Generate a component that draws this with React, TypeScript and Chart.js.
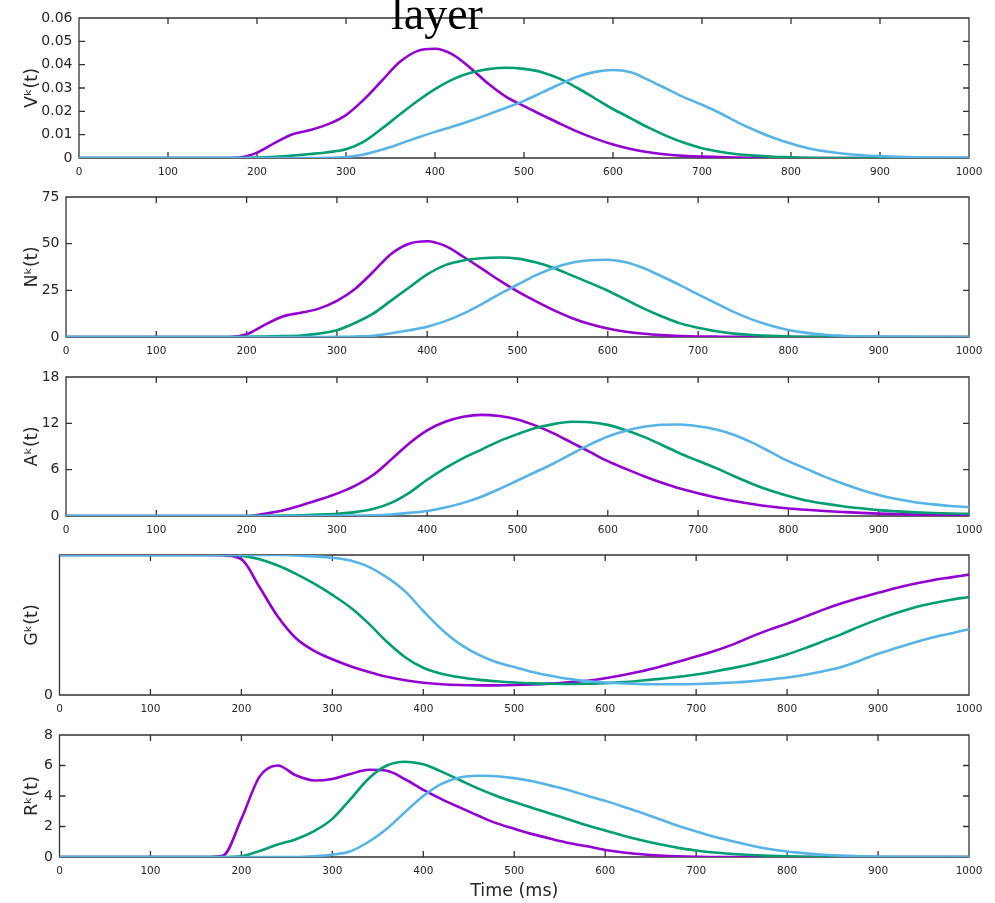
import React, { useEffect, useRef } from 'react';
import { Chart, registerables } from 'chart.js';

Chart.register(...registerables);

// ---------- data ----------
const TIME = [
  0, 20, 40, 60, 80, 100, 120, 140, 160, 180,
  200, 220, 240, 260, 280, 300, 320, 340, 360, 380,
  400, 420, 440, 460, 480, 500, 520, 540, 560, 580,
  600, 620, 640, 660, 680, 700, 720, 740, 760, 780,
  800, 820, 840, 860, 880, 900, 920, 940, 960, 980, 1000,
];

const V_PURPLE = [
  0, 0, 0, 0, 0, 0, 0, 0, 0, 0.0002,
  0.0023, 0.0065, 0.0102, 0.012, 0.0145, 0.0184, 0.025, 0.033, 0.041, 0.0458,
  0.0468, 0.0443, 0.0385, 0.0318, 0.0262, 0.0222, 0.0185, 0.0148, 0.0113, 0.0083,
  0.0058, 0.0039, 0.0025, 0.0015, 0.0009, 0.0006, 0.0004, 0.0002, 0.0001, 0,
  0, 0, 0, 0, 0, 0, 0, 0, 0, 0, 0,
];
const V_GREEN = [
  0, 0, 0, 0, 0, 0, 0, 0, 0, 0,
  0.0002, 0.0005, 0.001, 0.0017, 0.0025, 0.0037, 0.007, 0.0125, 0.0185, 0.0243,
  0.0295, 0.0337, 0.0365, 0.0381, 0.0387, 0.0382, 0.0368, 0.034, 0.03, 0.0255,
  0.021, 0.017, 0.013, 0.0095, 0.0065, 0.0042, 0.0027, 0.0016, 0.001, 0.0005,
  0.0003, 0.0001, 0, 0, 0, 0, 0, 0, 0, 0, 0,
];
const V_BLUE = [
  0, 0, 0, 0, 0, 0, 0, 0, 0, 0,
  0, 0, 0, 0, 0.0001, 0.0004, 0.0015, 0.0035, 0.006, 0.0087,
  0.0112, 0.0135, 0.016, 0.0187, 0.0215, 0.0245, 0.028, 0.0316, 0.0348, 0.0369,
  0.0377, 0.0367, 0.0334, 0.0297, 0.026, 0.0228, 0.0193, 0.0153, 0.0118, 0.0087,
  0.0062, 0.0041, 0.0028, 0.0018, 0.0012, 0.0008, 0.0005, 0.0003, 0.0002, 0.0001, 0,
];

const N_PURPLE = [
  0, 0, 0, 0, 0, 0, 0, 0, 0, 0,
  1.5, 6.5, 11, 13, 15.2, 19.3, 25.7, 34.8, 44.5, 50,
  51.3, 48.8, 43, 36.8, 30.3, 24.4, 19.2, 14.4, 10.2, 6.9,
  4.5, 2.8, 1.7, 1.0, 0.55, 0.3, 0.2, 0.1, 0.05, 0,
  0, 0, 0, 0, 0, 0, 0, 0, 0, 0, 0,
];
const N_GREEN = [
  0, 0, 0, 0, 0, 0, 0, 0, 0, 0,
  0.1, 0.3, 0.5, 0.8, 1.8, 3.6, 7.5, 12.5, 19.5, 26.5,
  33.5, 38.5, 41, 42.2, 42.6, 42, 40, 37, 33, 29,
  24.8, 20, 15.2, 11, 7.3, 5, 3.1, 1.8, 1.1, 0.6,
  0.3, 0.15, 0.05, 0, 0, 0, 0, 0, 0, 0, 0,
];
const N_BLUE = [
  0, 0, 0, 0, 0, 0, 0, 0, 0, 0,
  0, 0, 0, 0, 0, 0.1, 0.3, 0.7, 2, 3.6,
  5.5, 8.5, 12.5, 17.5, 23, 28, 33, 37, 39.8, 41.1,
  41.4, 40, 36.8, 32.4, 27.8, 22.8, 18, 13.3, 9.3, 6.2,
  3.8, 2.2, 1.2, 0.7, 0.4, 0.2, 0.1, 0.05, 0, 0, 0,
];

const A_PURPLE = [
  0, 0, 0, 0, 0, 0, 0, 0, 0, 0,
  0, 0.3, 0.72, 1.35, 2.1, 2.9, 3.9, 5.3, 7.3, 9.4,
  11.1, 12.2, 12.85, 13.1, 12.95, 12.5, 11.7, 10.7, 9.5, 8.3,
  7.1, 6.1, 5.15, 4.3, 3.55, 2.95, 2.4, 1.95, 1.55, 1.22,
  0.98, 0.8, 0.65, 0.52, 0.4, 0.31, 0.24, 0.18, 0.14, 0.11, 0.1,
];
const A_GREEN = [
  0, 0, 0, 0, 0, 0, 0, 0, 0, 0,
  0, 0.02, 0.05, 0.1, 0.2, 0.3, 0.5, 0.9, 1.7, 3.0,
  4.7, 6.2, 7.5, 8.6, 9.7, 10.6, 11.4, 11.9, 12.2, 12.15,
  11.8, 11.1, 10.25, 9.2, 8.1, 7.15, 6.2, 5.15, 4.15, 3.3,
  2.6, 2.0, 1.6, 1.27, 1.0, 0.76, 0.6, 0.47, 0.38, 0.32, 0.28,
];
const A_BLUE = [
  0, 0, 0, 0, 0, 0, 0, 0, 0, 0,
  0, 0, 0, 0, 0, 0.02, 0.05, 0.1, 0.2, 0.4,
  0.65, 1.1, 1.7, 2.5, 3.5, 4.6, 5.7, 6.8, 8.05, 9.25,
  10.3, 11.05, 11.55, 11.82, 11.85, 11.62, 11.2, 10.5, 9.5, 8.3,
  7.1, 6.1, 5.1, 4.2, 3.4, 2.72, 2.2, 1.78, 1.5, 1.3, 1.15,
];

const G_PURPLE = [
  1, 1, 1, 1, 1, 1, 1, 1, 1, 0.998,
  0.97, 0.77, 0.56, 0.405, 0.315, 0.255, 0.205, 0.165, 0.13, 0.105,
  0.088, 0.077, 0.071, 0.069, 0.069, 0.071, 0.075, 0.081, 0.09, 0.102,
  0.12, 0.143, 0.17, 0.202, 0.237, 0.275, 0.315, 0.36, 0.415, 0.465,
  0.51, 0.56, 0.61, 0.655, 0.695, 0.73, 0.765, 0.795, 0.82, 0.84, 0.86,
];
const G_GREEN = [
  1, 1, 1, 1, 1, 1, 1, 1, 1, 1,
  0.995, 0.97, 0.925, 0.865, 0.795, 0.715, 0.625, 0.51, 0.38, 0.27,
  0.195, 0.152, 0.127, 0.11, 0.098, 0.089, 0.083, 0.08, 0.079, 0.08,
  0.085, 0.092, 0.103, 0.115, 0.13, 0.147, 0.168, 0.192, 0.22, 0.252,
  0.29, 0.335, 0.385, 0.435, 0.49, 0.54, 0.585, 0.625, 0.655, 0.68, 0.7,
];
const G_BLUE = [
  1, 1, 1, 1, 1, 1, 1, 1, 1, 1,
  1, 1, 1, 0.997, 0.99, 0.98, 0.96, 0.915, 0.84, 0.74,
  0.6, 0.47, 0.365, 0.29, 0.235, 0.2, 0.165, 0.138, 0.115, 0.099,
  0.089, 0.082, 0.078, 0.077, 0.077, 0.079, 0.083, 0.089, 0.097, 0.11,
  0.125, 0.145, 0.17, 0.2, 0.245, 0.295, 0.335, 0.375, 0.41, 0.44, 0.47,
];

const R_PURPLE = [
  0, 0, 0, 0, 0, 0, 0, 0, 0, 0.1,
  2.5, 5.27, 6.0, 5.35, 5.02, 5.12, 5.45, 5.72, 5.65, 5.1,
  4.4, 3.8, 3.25, 2.72, 2.22, 1.85, 1.5, 1.2, 0.92, 0.7,
  0.46, 0.3, 0.18, 0.1, 0.05, 0.02, 0, 0, 0, 0,
  0, 0, 0, 0, 0, 0, 0, 0, 0, 0, 0,
];
const R_GREEN = [
  0, 0, 0, 0, 0, 0, 0, 0, 0, 0,
  0.05, 0.4, 0.82, 1.17, 1.7, 2.5, 3.8, 5.15, 6.0, 6.25,
  6.08, 5.6, 5.05, 4.5, 4.02, 3.6, 3.22, 2.84, 2.46, 2.08,
  1.73, 1.4, 1.1, 0.83, 0.6, 0.43, 0.29, 0.2, 0.13, 0.08,
  0.04, 0.02, 0, 0, 0, 0, 0, 0, 0, 0, 0,
];
const R_BLUE = [
  0, 0, 0, 0, 0, 0, 0, 0, 0, 0,
  0, 0, 0, 0, 0.05, 0.15, 0.38, 1.0, 1.85, 2.95,
  4.0, 4.8, 5.22, 5.33, 5.3, 5.17, 4.97, 4.68, 4.38, 4.02,
  3.68, 3.3, 2.9, 2.48, 2.05, 1.68, 1.33, 1.04, 0.76, 0.53,
  0.36, 0.24, 0.15, 0.09, 0.05, 0.02, 0, 0, 0, 0, 0,
];

const X_TICKS = [0, 100, 200, 300, 400, 500, 600, 700, 800, 900, 1000];
const V_TICKS = [0, 0.01, 0.02, 0.03, 0.04, 0.05, 0.06];
const N_TICKS = [0, 25, 50, 75];
const A_TICKS = [0, 6, 12, 18];
const G_TICKS = [0];
const R_TICKS = [0, 2, 4, 6, 8];

const TITLE = 'layer';
const X_LABEL = 'Time (ms)';

// ---------- style ----------
const PURPLE = '#9400D3';
const GREEN = '#009E73';
const BLUE = '#56B4E9';
const FONT = "'DejaVu Sans', sans-serif";
const TEXT = '#262626';
const FRAME = '#333333';
const W = 995;
const RIGHT = 969;

type PanelSpec = {
  key: string;
  label: string;
  series: number[][];
  ticks: number[];
  max: number;
  fmt: (v: number) => string;
  canvasTop: number;
  left: number;
  top: number;
  bottom: number;
  padBottom: number;
  xTitle?: string;
};

const PANELS: PanelSpec[] = [
  { key: 'V', label: 'V\u1D4F(t)', series: [V_PURPLE, V_GREEN, V_BLUE], ticks: V_TICKS, max: 0.06,
    fmt: (v) => (v === 0 ? '0' : v.toFixed(2)), canvasTop: 0, left: 79, top: 18, bottom: 158, padBottom: 24 },
  { key: 'N', label: 'N\u1D4F(t)', series: [N_PURPLE, N_GREEN, N_BLUE], ticks: N_TICKS, max: 75,
    fmt: (v) => String(v), canvasTop: 182, left: 66, top: 197, bottom: 337, padBottom: 23 },
  { key: 'A', label: 'A\u1D4F(t)', series: [A_PURPLE, A_GREEN, A_BLUE], ticks: A_TICKS, max: 18,
    fmt: (v) => String(v), canvasTop: 360, left: 66, top: 377, bottom: 516, padBottom: 23 },
  { key: 'G', label: 'G\u1D4F(t)', series: [G_PURPLE, G_GREEN, G_BLUE], ticks: G_TICKS, max: 1,
    fmt: (v) => String(v), canvasTop: 539, left: 59.5, top: 555, bottom: 695, padBottom: 24 },
  { key: 'R', label: 'R\u1D4F(t)', series: [R_PURPLE, R_GREEN, R_BLUE], ticks: R_TICKS, max: 8,
    fmt: (v) => String(v), canvasTop: 719, left: 59.5, top: 735, bottom: 857, padBottom: 46, xTitle: X_LABEL },
];

const framePlugin = {
  id: 'frame',
  beforeDatasetsDraw(chart: any) {
    const { ctx, chartArea: a, scales } = chart;
    const x = scales.x;
    const y = scales.y;
    const tl = 6;
    ctx.save();
    ctx.strokeStyle = FRAME;
    ctx.lineWidth = 1.3;
    ctx.beginPath();
    ctx.rect(a.left, a.top, a.right - a.left, a.bottom - a.top);
    x.ticks.forEach((t: any) => {
      if (t.value <= x.min || t.value >= x.max) return;
      const px = x.getPixelForValue(t.value);
      ctx.moveTo(px, a.bottom);
      ctx.lineTo(px, a.bottom - tl);
      ctx.moveTo(px, a.top);
      ctx.lineTo(px, a.top + tl);
    });
    y.ticks.forEach((t: any) => {
      if (t.value <= y.min || t.value >= y.max) return;
      const py = y.getPixelForValue(t.value);
      ctx.moveTo(a.left, py);
      ctx.lineTo(a.left + tl, py);
      ctx.moveTo(a.right, py);
      ctx.lineTo(a.right - tl, py);
    });
    ctx.stroke();
    ctx.restore();
  },
};

function makeDataset(values: number[], color: string) {
  return {
    data: TIME.map((t, i) => ({ x: t, y: values[i] })),
    borderColor: color,
    backgroundColor: color,
    borderWidth: 2.6,
    pointRadius: 0,
    fill: false,
    cubicInterpolationMode: 'monotone' as const,
  };
}

function Panel({ spec }: { spec: PanelSpec }) {
  const ref = useRef<HTMLCanvasElement | null>(null);
  const padTop = spec.top - spec.canvasTop;
  const height = padTop + (spec.bottom - spec.top) + spec.padBottom;

  useEffect(() => {
    if (!ref.current) return;
    const [p, g, b] = spec.series;
    const chart = new Chart(ref.current, {
      type: 'line',
      data: {
        datasets: [makeDataset(b, BLUE), makeDataset(g, GREEN), makeDataset(p, PURPLE)],
      },
      options: {
        responsive: false,
        maintainAspectRatio: false,
        animation: false,
        devicePixelRatio: 1,
        layout: { padding: { top: padTop, right: W - RIGHT, left: 0, bottom: 0 } },
        plugins: { legend: { display: false }, tooltip: { enabled: false }, title: { display: false } },
        scales: {
          x: {
            type: 'linear',
            min: 0,
            max: 1000,
            afterBuildTicks: (scale: any) => {
              scale.ticks = X_TICKS.map((v) => ({ value: v }));
            },
            afterFit: (scale: any) => {
              scale.height = spec.padBottom;
            },
            grid: { display: false, drawTicks: false },
            border: { display: false },
            ticks: {
              padding: 8,
              maxRotation: 0,
              autoSkip: false,
              color: TEXT,
              font: { family: FONT, size: 10.5 },
              callback: (v: any) => String(v),
            },
            title: spec.xTitle
              ? { display: true, text: spec.xTitle, color: TEXT, font: { family: FONT, size: 17.5 }, padding: { top: 0, bottom: 1 } }
              : { display: false },
          },
          y: {
            type: 'linear',
            min: 0,
            max: spec.max,
            afterBuildTicks: (scale: any) => {
              scale.ticks = spec.ticks.map((v) => ({ value: v }));
            },
            afterFit: (scale: any) => {
              scale.width = spec.left;
            },
            grid: { display: false, drawTicks: false },
            border: { display: false },
            ticks: {
              padding: 6.5,
              autoSkip: false,
              color: TEXT,
              font: { family: FONT, size: 14 },
              callback: (v: any) => spec.fmt(Number(v)),
            },
            title: {
              display: true,
              text: spec.label,
              color: TEXT,
              font: { family: FONT, size: 17.5 },
              padding: { top: 22, bottom: 0 },
            },
          },
        },
      },
      plugins: [framePlugin],
    } as any);
    return () => chart.destroy();
  }, []);

  return (
    <canvas
      ref={ref}
      width={W}
      height={height}
      style={{ position: 'absolute', left: 0, top: spec.canvasTop, width: W, height, display: 'block' }}
    />
  );
}

export default function App() {
  return (
    <div
      style={{
        position: 'absolute',
        left: 0,
        top: 0,
        width: W,
        height: 903,
        overflow: 'hidden',
        background: '#ffffff',
      }}
    >
      {PANELS.map((s) => (
        <Panel key={s.key} spec={s} />
      ))}
      <div
        style={{
          position: 'absolute',
          left: 391,
          top: -9.5,
          fontFamily: "'Liberation Serif', 'Times New Roman', serif",
          fontSize: 46,
          lineHeight: '46px',
          color: '#000',
          whiteSpace: 'nowrap',
          zIndex: 2,
        }}
      >
        {TITLE}
      </div>
    </div>
  );
}
